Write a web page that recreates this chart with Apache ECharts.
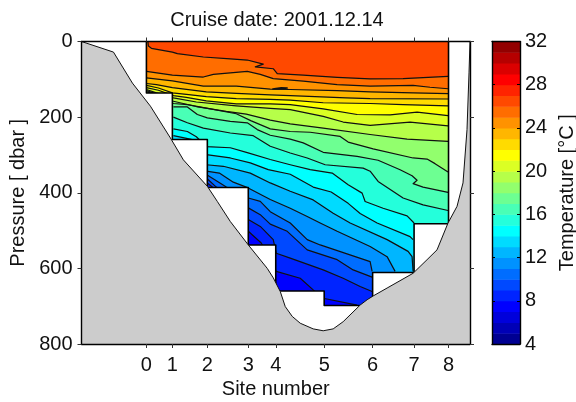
<!DOCTYPE html>
<html><head><meta charset="utf-8">
<style>html,body{margin:0;padding:0;background:#fff}#c{width:576px;height:402px}</style>
<script src="https://cdn.jsdelivr.net/npm/echarts@6/dist/echarts.min.js"></script>
</head><body><div id="c"></div>
<script>
const titleText = "Cruise date: 2001.12.14";
const siteNumbers = [0,1,2,3,4,5,6,7,8];
const siteDistance = [0,26,61,102,129.5,178,226.5,268,302.5];
const tempLevels = [26,25,24,23,22,21,20,19,18,17,16,15,14,13,12,11,10,9,8];
const bandColors = ["#000092","#0000b6","#0000db","#0000ff","#0024ff","#0049ff","#006dff","#0092ff","#00b6ff","#00dbff","#00ffff","#24ffdb","#49ffb6","#6dff92","#92ff6d","#b6ff49","#dbff24","#ffff00","#ffdb00","#ffb600","#ff9200","#ff6d00","#ff4900","#ff2400","#ff0000","#db0000","#b60000","#920000"];

const iso26 = [[0,0],[1.5,0],[2,12],[5,18],[26,28],[31,32],[57,41],[84,46],[101,49],[117,60],[109,67],[127,72],[131,85],[157,89],[191,95],[224,99],[257,98],[302,92]];
const iso25 = [[0,79],[26,89],[57,94],[67,87],[101,79],[114,87],[127,98],[157,105],[191,114],[224,118],[267,116],[284,121],[302,125]];
const iso24 = [[0,96],[26,104],[57,118],[90,118],[124,126],[144,127],[191,130],[224,133],[267,136],[302,138]];
const iso23 = [[0,111],[10,114],[26,122],[60,133],[90,137],[124,141],[144,143],[200,149],[224,151],[302,152]];
const iso22 = [[0,116],[12,123],[26,136],[40,140],[60,146],[90,151],[124,153],[144,155],[177,162],[224,164],[257,167],[302,170]];
const iso21 = [[0,122],[12,129],[27,143],[40,148],[60,157],[90,165],[124,165],[144,167],[177,178],[211,193],[244,194],[271,187],[302,196]];
const iso20 = [[0,127],[10,136],[27,149],[50,160],[90,170],[124,177],[144,180],[177,198],[197,213],[224,222],[264,213],[302,223]];
const iso19 = [[0,130],[7,136],[27,158],[50,172],[80,185],[100,192],[124,208],[144,218],[177,229],[224,246],[261,258],[302,264]];
const iso18 = [[0,133],[4,136],[27,164],[41,167],[60,176],[90,191],[105,210],[124,231],[144,238],[164,240],[194,251],[202,266],[227,284],[267,308],[281,311],[289,323],[302,345]];
const iso17 = [[27,173],[41,173],[51,193],[61,202],[84,211],[101,215],[111,233],[124,248],[144,258],[157,268],[177,293],[211,304],[232,314],[254,339],[266,355],[271,367],[267,376],[277,385],[302,399]];
const iso16 = [[27,200],[41,215],[57,229],[84,242],[107,249],[124,277],[144,295],[161,308],[179,326],[217,335],[224,343],[232,370],[257,414],[277,432],[302,447]];
const iso15 = [[27,231],[41,238],[50,252],[60,278],[84,281],[101,294],[124,312],[144,326],[164,339],[186,348],[202,379],[216,401],[219,423],[237,441],[261,461],[268,480]];
const iso14 = [[27,249],[45,259],[60,299],[84,308],[104,321],[122,339],[144,351],[167,385],[185,398],[202,428],[214,455],[231,480],[264,516],[267,524]];
const iso13 = [[60,326],[77,330],[104,348],[124,374],[144,396],[167,419],[187,454],[204,480],[241,524],[262,555],[266,569],[267,608]];
const iso12 = [[60,343],[73,348],[87,372],[100,385],[124,418],[144,441],[161,463],[174,480],[191,502],[224,542],[241,569],[249,608]];
const iso11 = [[60,352],[80,385],[102,414],[114,423],[124,450],[144,480],[161,524],[174,538],[224,582],[226,608]];
const iso10 = [[60,361],[70,385],[102,440],[114,458],[124,483],[141,502],[161,551],[191,577],[207,604],[226,623]];
const iso9 = [[60,372],[66,385],[102,471],[114,489],[127,524],[130,560],[144,573],[177,604],[197,626],[214,648],[226,661]];
const iso8 = [[102,502],[115,533],[130,608],[154,626],[167,657],[177,679],[211,697]];
const isoLens = [[126,126],[135,125],[141,123],[135,122],[128,125],[126,126]];
const isotherms = [iso26,iso25,iso24,iso23,iso22,iso21,iso20,iso19,iso18,iso17,iso16,iso15,iso14,iso13,iso12,iso11,iso10,iso9,iso8];

const domainEdge = [[0,0],[0,136],[26,136],[26,259],[61,259],[61,386],[102,386],[102,538],[129.5,538],[129.5,660],[178,660],[178,698],[226.5,698],[226.5,611],[268,611],[268,482],[302.5,482],[302.5,0]];
const seabed = [[-65,0],[-33,28],[-14,110],[4,171],[24,255],[37,313],[61,383],[71,423],[84,476],[102,538],[121,600],[127,625],[134,661],[139,701],[146,727],[154,745],[167,760],[177,765],[187,760],[197,741],[214,697],[221,683],[227,673],[241,652],[267,613],[281,577],[291,551],[302,480],[311,436],[317,374],[321,233],[323,83],[324,0]];

const xMin=-65, xMax=324, pMax=800;
const font="Liberation Sans";

function poly(points,api,fill){
  return {type:'polygon',shape:{points:points.map(p=>api.coord(p))},style:{fill:fill,stroke:null}};
}
function pline(points,api,w,color){
  return {type:'polyline',shape:{points:points.map(p=>api.coord(p))},style:{fill:null,stroke:color||'#000',lineWidth:w,lineJoin:'round'}};
}
function closeDown(line){
  const a=line[0], b=line[line.length-1];
  return [[a[0],pMax]].concat(line,[[b[0],pMax]]);
}
const layers = {
  type:'custom',xAxisIndex:0,yAxisIndex:0,coordinateSystem:'cartesian2d',clip:true,z:2,silent:true,
  data:[[0,0]],
  renderItem(params,api){
    const ch=[];
    ch.push(poly([[0,0],[siteDistance[8],0],[siteDistance[8],pMax],[0,pMax]],api,bandColors[tempLevels[0]-4]));
    isotherms.forEach((ln,i)=>ch.push(poly(closeDown(ln),api,bandColors[tempLevels[i]-5])));
    isotherms.forEach(ln=>ch.push(pline(ln,api,1.2,'#111')));
    ch.push(pline(isoLens,api,1.4,'#111'));
    const mask=[[xMin,0]].concat(domainEdge,[[xMax,0],[xMax,pMax],[xMin,pMax]]);
    ch.push(poly(mask,api,'#fff'));
    ch.push(pline(domainEdge,api,1.6,'#000'));
    const sb=seabed.concat([[xMax,pMax],[xMin,pMax]]);
    ch.push(poly(sb,api,'#cccccc'));
    ch.push(pline(seabed,api,1,'#111'));
    return {type:'group',children:ch};
  }
};
const cbarTemps = bandColors.map((c,i)=>[i+4,i+5]);
const cbar = {
  type:'custom',xAxisIndex:2,yAxisIndex:2,coordinateSystem:'cartesian2d',clip:true,z:2,silent:true,
  data:cbarTemps,
  renderItem(params,api){
    const a=api.coord([0,api.value(0)]), b=api.coord([1,api.value(1)]);
    return {type:'rect',shape:{x:a[0],y:b[1],width:b[0]-a[0],height:a[1]-b[1]+0.5},style:{fill:bandColors[params.dataIndex]}};
  }
};
const line={onZero:false,lineStyle:{color:'#000',width:1.4}};
const tickOut={show:true,inside:false,length:4,lineStyle:{color:'#333',width:1}};
const tickIn={show:true,inside:true,length:3,lineStyle:{color:'#000',width:1}};
const lab={color:'#111',fontFamily:font,fontSize:20};
const chart=echarts.init(document.getElementById('c'),null,{renderer:'canvas'});
chart.setOption({
  animation:false,backgroundColor:'#fff',
  title:{text:titleText,left:272,top:5,textAlign:'center',textStyle:{fontFamily:font,fontSize:20,fontWeight:'normal',color:'#111'}},
  grid:[{left:81.5,top:41.5,width:388.5,height:302.5,outerBoundsMode:'none'},{left:492,top:41.5,width:28,height:302.5,outerBoundsMode:'none'}],
  xAxis:[
    {gridIndex:0,type:'value',min:xMin,max:xMax,position:'bottom',z:10,splitLine:{show:false},axisLine:line,
     axisTick:Object.assign({customValues:siteDistance},tickOut),
     axisLabel:Object.assign({customValues:siteDistance,margin:11,formatter:v=>siteNumbers[siteDistance.indexOf(v)]},lab),
     name:'Site number',nameLocation:'middle',nameGap:30,nameTextStyle:lab},
    {gridIndex:0,type:'value',min:xMin,max:xMax,position:'top',z:10,splitLine:{show:false},axisLine:line,
     axisTick:Object.assign({customValues:siteDistance},tickOut),
     axisLabel:{show:false}},
    {gridIndex:1,type:'value',min:0,max:1,position:'bottom',z:10,splitLine:{show:false},axisLine:line,axisTick:{show:false},axisLabel:{show:false}},
    {gridIndex:1,type:'value',min:0,max:1,position:'top',z:10,splitLine:{show:false},axisLine:line,axisTick:{show:false},axisLabel:{show:false}}
  ],
  yAxis:[
    {gridIndex:0,type:'value',inverse:true,min:0,max:pMax,interval:200,position:'left',z:10,splitLine:{show:false},axisLine:line,axisTick:tickOut,
     axisLabel:Object.assign({margin:9},lab),
     name:'Pressure [ dbar ]',nameLocation:'middle',nameGap:45,nameTextStyle:lab},
    {gridIndex:0,type:'value',inverse:true,min:0,max:pMax,interval:200,position:'right',z:10,splitLine:{show:false},axisLine:line,axisTick:tickOut,axisLabel:{show:false}},
    {gridIndex:1,type:'value',min:4,max:32,interval:4,position:'right',z:10,splitLine:{show:false},axisLine:line,axisTick:tickIn,
     axisLabel:Object.assign({margin:5},lab),
     name:'Temperature [°C ]',nameLocation:'middle',nameGap:37,nameRotate:90,nameTextStyle:lab},
    {gridIndex:1,type:'value',min:4,max:32,interval:4,position:'left',z:10,splitLine:{show:false},axisLine:line,axisTick:tickIn,axisLabel:{show:false}}
  ],
  series:[layers,cbar]
});
</script></body></html>
